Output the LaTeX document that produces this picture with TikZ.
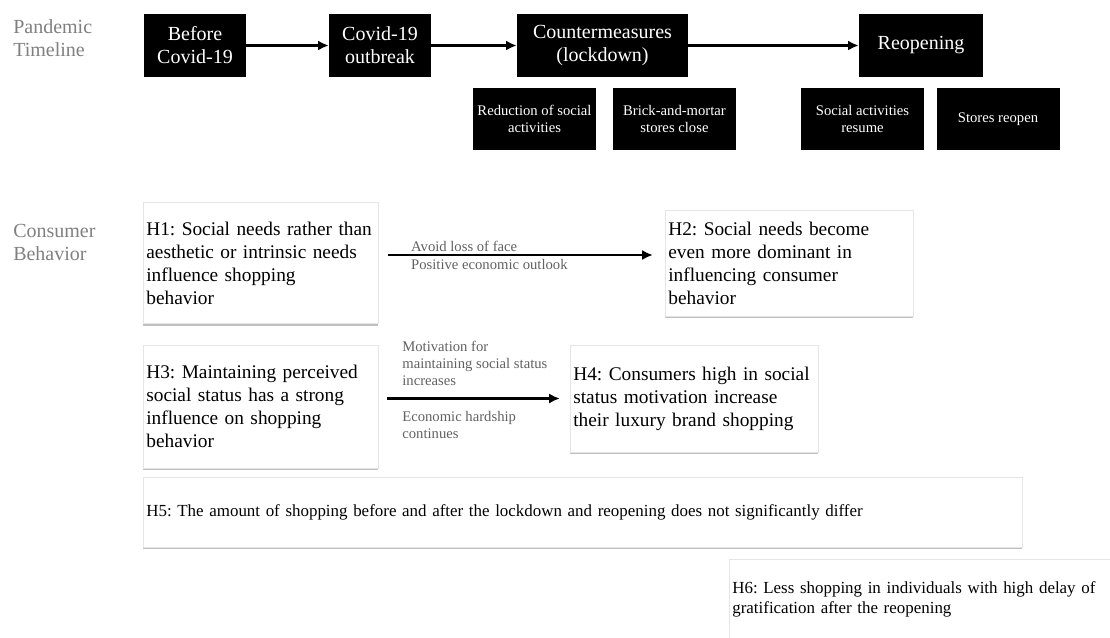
\documentclass[tikz,border=0pt]{standalone}
\usepackage{fontspec}
\setmainfont{Liberation Serif}
\usetikzlibrary{arrows.meta,positioning,shadows}
\tikzset{
    stage/.style={fill=black,text=white,align=center,inner sep=0pt,
        minimum height=47.25pt,font=\fontsize{15}{17.25}\selectfont},
    event/.style={stage,minimum width=92.25pt,minimum height=46.5pt,
        font=\fontsize{11}{13.3}\selectfont},
    hyp/.style={fill=white,draw=black!10,very thin,inner xsep=2.5pt,inner ysep=0pt,align=left,
        drop shadow={shadow xshift=0pt,shadow yshift=-1.5pt,opacity=.55,fill=black!45},
        font=\fontsize{14.5}{17.25}\selectfont\frenchspacing},
    hyp small/.style={hyp,font=\fontsize{12.7}{14.5}\selectfont\frenchspacing},
    rowlabel/.style={text=black!50,align=left,anchor=west,inner sep=0pt,
        font=\fontsize{15}{17.25}\selectfont},
    note/.style={text=black!62,align=left,inner sep=0pt,font=\fontsize{11}{12.75}\selectfont},
    arr/.style={-{Latex[length=8pt,width=7.5pt]},line width=1.8pt},
}

\begin{document}
\begin{tikzpicture}[x=0.75pt,y=-0.75pt]
    \useasboundingbox (0,0) rectangle (1110,637);
    % timeline
    \node[rowlabel] (timeline) at (13,38.5) {Pandemic\\Timeline};
    \node[stage,minimum width=76.5pt] (before) at (195,45.5) {Before\\Covid-19};
    \node[stage,minimum width=76.5pt] (outbreak) at (380,45.5) {Covid-19\\outbreak};
    \node[stage,minimum width=128.25pt] (lockdown) at (602.5,45.5) {Countermeasures\\(lockdown)};
    \node[stage,minimum width=93pt] (reopening) at (921,45.5) {Reopening};
    \node[event] (fewer) at (534.5,119) {Reduction of social\\activities};
    \node[event] (close) at (674.5,119) {Brick-and-mortar\\stores close};
    \node[event] (resume) at (862.5,119) {Social activities\\resume};
    \node[event] (reopen) at (998,119) {Stores reopen};
    \draw[arr] (before) -- (outbreak);
    \draw[arr] (outbreak) -- (lockdown);
    \draw[arr] (lockdown) -- (reopening);

    % consumer behavior
    \node[rowlabel] (consumer) at (13,242.5) {Consumer\\Behavior};
    \node[hyp,text width=171.25pt,minimum height=90.75pt] (h1) at (260.5,263)
        {H1: Social needs rather than\\aesthetic or intrinsic needs\\influence shopping\\behavior};
    \node[hyp,text width=181pt,minimum height=79.5pt] (h2) at (789,263)
        {H2: Social needs become\\even more dominant in\\influencing consumer\\behavior};
    \node[hyp,text width=171.25pt,minimum height=92.25pt] (h3) at (260.5,406.5)
        {H3: Maintaining perceived\\social status has a strong\\influence on shopping\\behavior};
    \node[hyp,text width=181pt,minimum height=80.25pt] (h4) at (694,398.5)
        {H4: Consumers high in social\\status motivation increase\\their luxury brand shopping};
    \node[hyp small,text width=654.25pt,minimum height=52.5pt] (h5) at (582.5,512)
        {H5: The amount of shopping before and after the lockdown and reopening does not significantly differ};
    \node[hyp small,text width=289pt,minimum height=60.75pt] (h6) at (925,599.5)
        {H6: Less shopping in individuals with high delay of\\gratification after the reopening};

    \draw[arr,shorten <=7.5pt,shorten >=9pt] ([yshift=6pt]h1.east) -- ([yshift=6pt]h2.west)
        node[note,pos=.111,anchor=south west,yshift=1.5pt] {Avoid loss of face}
        node[note,pos=.111,anchor=north west,yshift=-2pt] {Positive economic outlook};
    \draw[arr,shorten <=6.75pt,shorten >=7.5pt] (h3.east |- h4.west) -- (h4.west)
        node[note,pos=.12,anchor=south west,yshift=8.5pt] {Motivation for\\maintaining social status\\increases}
        node[note,pos=.12,anchor=north west,yshift=-9pt] {Economic hardship\\continues};
\end{tikzpicture}
\end{document}
